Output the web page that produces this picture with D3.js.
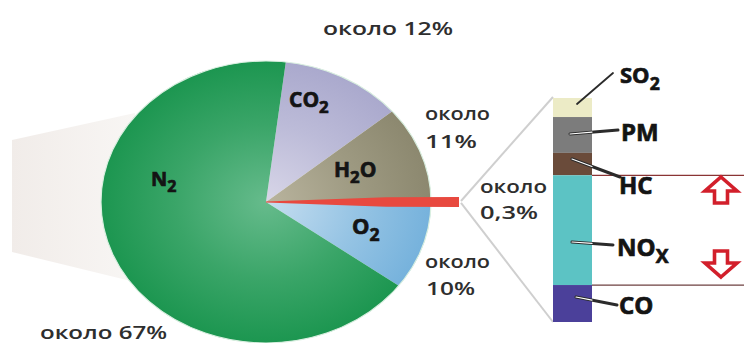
<!DOCTYPE html>
<html>
<head>
<meta charset="utf-8">
<script src="https://cdn.jsdelivr.net/npm/d3@7"></script>
<style>
  html, body { margin: 0; padding: 0; background: #ffffff; }
  svg { display: block; }
</style>
</head>
<body>
<svg id="chart" width="744" height="343"></svg>
<script>
// Exhaust gas composition: main gases (pie) and the harmful fraction (stacked bar)
const gasNames   = ["CO2", "H2O", "other", "O2", "N2"];
const gasShares  = [12, 11, 0.3, 10, 67];
const gasColors  = ["#aaa9cd", "#8c886f", "#e8493f", "#76b2dc", "#1c9650"];
const gasInner   = ["#d8d6e8", "#b9b49e", "#f06a5f", "#c6def0", "#66bb8c"];

const toxicNames  = ["SO2", "PM", "HC", "NOx", "CO"];
const toxicShares = [8.5, 16, 10, 49, 16.5];
const toxicColors = ["#ecebc6", "#7c7c7c", "#6a4b3a", "#5cc3c4", "#4b409a"];

const svg = d3.select("#chart");
const defs = svg.append("defs");

// ---- faint wedge on the left (continuation from a previous diagram) ----
const wedgeGrad = defs.append("linearGradient").attr("id", "wedgeGrad")
  .attr("x1", "0").attr("x2", "1").attr("y1", "0").attr("y2", "0");
wedgeGrad.append("stop").attr("offset", "0").attr("stop-color", "#f1ece9");
wedgeGrad.append("stop").attr("offset", "1").attr("stop-color", "#f8f6f4");
svg.append("path")
  .attr("d", d3.line()([[12, 140], [135, 113], [135, 282], [12, 252]]))
  .attr("fill", "url(#wedgeGrad)");

// ---- pie ----
const cx = 266, cy = 202, rx = 165, ry = 141;
const startA = 6.9 * Math.PI / 180;
const pie = d3.pie().sort(null).value(d => d)
  .startAngle(startA).endAngle(startA + 2 * Math.PI);
const arcs = pie(gasShares);
const arc = d3.arc().innerRadius(0).outerRadius(rx);

gasColors.forEach((c, i) => {
  const g = defs.append("radialGradient").attr("id", "pg" + i)
    .attr("gradientUnits", "userSpaceOnUse")
    .attr("cx", 0).attr("cy", 0).attr("r", rx);
  g.append("stop").attr("offset", "0").attr("stop-color", gasInner[i]);
  g.append("stop").attr("offset", "0.55").attr("stop-color", d3.interpolateRgb(gasInner[i], c)(0.6));
  g.append("stop").attr("offset", "1").attr("stop-color", c);
});

const pieG = svg.append("g")
  .attr("transform", `translate(${cx},${cy}) scale(1,${ry / rx})`);
pieG.selectAll("path").data(arcs).join("path")
  .attr("d", arc)
  .attr("fill", (d, i) => `url(#pg${i})`);
// thin light rim
pieG.append("circle").attr("r", rx).attr("fill", "none")
  .attr("stroke", "#d9efe0").attr("stroke-width", 1.2);

// red bar carrying the "other" slice out of the pie
const other = arcs[2];
const midA = (other.startAngle + other.endAngle) / 2;
const yMid = cy - Math.cos(midA) * ry;
const xEdge = cx + Math.sin(midA) * rx;
const tipX = 459;
svg.append("path")
  .attr("d", d3.line()([[cx, yMid - 0.6], [xEdge - 45, yMid - 4.8], [tipX, yMid - 5],
                        [tipX, yMid + 5], [xEdge - 45, yMid + 4.8], [cx, yMid + 0.6]]) + "Z")
  .attr("fill", gasColors[2]);

// ---- stacked bar ----
const barX = 553, barW = 39;
const y = d3.scaleLinear().domain([0, d3.sum(toxicShares)]).range([98, 322]);
let acc = 0;
const segs = toxicShares.map((v, i) => {
  const s = { name: toxicNames[i], y0: y(acc), y1: y(acc + v), color: toxicColors[i] };
  acc += v;
  return s;
});

// zoom lines from the red bar tip to the stacked bar
svg.append("line").attr("x1", tipX + 2).attr("y1", yMid - 1)
  .attr("x2", barX).attr("y2", y(0) - 1)
  .attr("stroke", "#cfcfcf").attr("stroke-width", 2);
svg.append("line").attr("x1", tipX + 2).attr("y1", yMid + 1)
  .attr("x2", barX).attr("y2", y(d3.sum(toxicShares)))
  .attr("stroke", "#cfcfcf").attr("stroke-width", 2);

svg.selectAll("rect.seg").data(segs).join("rect")
  .attr("class", "seg")
  .attr("x", barX).attr("width", barW)
  .attr("y", d => d.y0).attr("height", d => d.y1 - d.y0)
  .attr("fill", d => d.color);

// horizontal reference lines at the HC/NOx and NOx/CO boundaries
[segs[2].y1, segs[3].y1].forEach((yy, i) => {
  svg.append("line").attr("x1", barX + barW).attr("x2", 744)
    .attr("y1", yy).attr("y2", yy)
    .attr("stroke", i === 0 ? "#8a3434" : "#6e4040").attr("stroke-width", 1.2);
});

// leader lines from the segments to their labels
const leaders = [
  { from: [577, 104], to: [613, 73], inner: false },
  { from: [570, 134], to: [618, 130], inner: true },
  { from: [572, 159], to: [620, 177], inner: true },
  { from: [572, 242], to: [613, 245], inner: true },
  { from: [576, 297], to: [617, 305], inner: true }
];
leaders.forEach(l => {
  svg.append("line").attr("x1", l.from[0]).attr("y1", l.from[1])
    .attr("x2", l.to[0]).attr("y2", l.to[1])
    .attr("stroke", "#2b2b2b").attr("stroke-width", l.inner ? 3 : 1.8)
    .attr("stroke-linecap", "round");
  if (l.inner) {
    const t = (barX + barW - l.from[0]) / (l.to[0] - l.from[0]);
    svg.append("line").attr("x1", l.from[0]).attr("y1", l.from[1])
      .attr("x2", barX + barW).attr("y2", l.from[1] + t * (l.to[1] - l.from[1]))
      .attr("stroke", "#ffffff").attr("stroke-width", 1.2)
      .attr("stroke-linecap", "round");
  }
});

// ---- arrows ----
function arrowPath(x, top, h, up) {
  const hw = 16, sw = 6.5, hh = 14;
  let pts;
  if (up) {
    pts = [[x, top], [x + hw, top + hh], [x + sw, top + hh], [x + sw, top + h],
           [x - sw, top + h], [x - sw, top + hh], [x - hw, top + hh]];
  } else {
    const b = top + h;
    pts = [[x, b], [x + hw, b - hh], [x + sw, b - hh], [x + sw, top],
           [x - sw, top], [x - sw, b - hh], [x - hw, b - hh]];
  }
  return d3.line()(pts) + "Z";
}
svg.append("path").attr("d", arrowPath(721, 177, 26, true))
  .attr("fill", "#ffffff").attr("stroke", "#d21f2b").attr("stroke-width", 3.6)
  .attr("stroke-linejoin", "miter");
svg.append("path").attr("d", arrowPath(721, 251, 26, false))
  .attr("fill", "#ffffff").attr("stroke", "#d21f2b").attr("stroke-width", 3.6)
  .attr("stroke-linejoin", "miter");

// ---- text ----
const font = "'Open Sans', 'DejaVu Sans', sans-serif";

// chemical formula with subscripts; parts = [[text, isSub], ...]
function chem(x, yb, parts, size) {
  const t = svg.append("text").attr("x", x).attr("y", yb)
    .attr("font-family", font).attr("font-weight", 700)
    .attr("font-size", size).attr("fill", "#141414")
    .attr("stroke", "#141414").attr("stroke-width", 0.7)
    .attr("paint-order", "stroke");
  let shifted = 0;
  parts.forEach(([txt, sub]) => {
    const target = sub ? size * 0.3 : 0;
    const ts = t.append("tspan").attr("dy", target - shifted).text(txt);
    if (sub) ts.attr("font-size", size * 0.8);
    shifted = target;
  });
  return t;
}

// pie labels
chem(289, 107, [["CO", 0], ["2", 1]], 21);
chem(334, 177, [["H", 0], ["2", 1], ["O", 0]], 21);
chem(151, 186, [["N", 0], ["2", 1]], 20);
chem(352, 234, [["O", 0], ["2", 1]], 22);

// bar labels
chem(620, 83, [["SO", 0], ["2", 1]], 22);
chem(621, 141, [["PM", 0]], 24);
chem(619, 194, [["HC", 0]], 24);
chem(617, 256, [["NO", 0], ["X", 1]], 24);
chem(619, 314, [["CO", 0]], 24);

// percentage labels
const pctLabels = [
  { text: "около 12%", x: 323, y: 35, w: 130 },
  { text: "около", x: 425, y: 120, w: 65 },
  { text: "11%", x: 425, y: 148, w: 52 },
  { text: "около", x: 480, y: 193, w: 67 },
  { text: "0,3%", x: 480, y: 219, w: 58 },
  { text: "около", x: 425, y: 268, w: 65 },
  { text: "10%", x: 426, y: 295, w: 49 },
  { text: "около 67%", x: 40, y: 339, w: 127 }
];
svg.selectAll("text.pct").data(pctLabels).join("text")
  .attr("class", "pct")
  .attr("x", d => d.x).attr("y", d => d.y)
  .attr("textLength", d => d.w).attr("lengthAdjust", "spacingAndGlyphs")
  .attr("font-family", font).attr("font-weight", 600)
  .attr("font-size", 18).attr("fill", "#2e2e2e")
  .text(d => d.text);
</script>
</body>
</html>
